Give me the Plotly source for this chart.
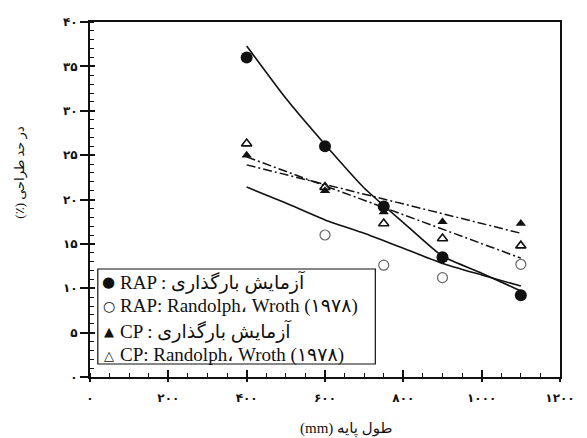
import plotly.graph_objects as go

# ---- data ----
length_mm = [400, 600, 750, 900, 1100]
rap_test = [36.0, 26.0, 19.2, 13.5, 9.2]
rap_randolph_x = [600, 750, 900, 1100]
rap_randolph = [16.0, 12.6, 11.2, 12.7]
cp_test = [25.0, 21.0, 18.6, 17.5, 17.3]
cp_randolph = [26.3, 21.4, 17.3, 15.6, 14.8]

fit_x = [400, 500, 600, 700, 800, 900, 1000, 1100]
rap_test_fit = [37.3, 31.4, 26.2, 21.3, 17.4, 13.6, 11.7, 9.7]
rap_randolph_fit = [21.4, 19.6, 17.7, 16.2, 14.5, 12.8, 11.5, 10.25]
line_x = [400, 1100]
cp_test_fit = [23.9, 16.2]
cp_randolph_fit = [24.8, 13.4]

y_tickvals = [0, 5, 10, 15, 20, 25, 30, 35, 40]
y_ticktext = ["۰", "۵", "۱۰", "۱۵", "۲۰", "۲۵", "۳۰", "۳۵", "۴۰"]
x_tickvals = [0, 200, 400, 600, 800, 1000, 1200]
x_ticktext = ["۰", "۲۰۰", "۴۰۰", "۶۰۰", "۸۰۰", "۱۰۰۰", "۱۲۰۰"]

legend_names = [
    "RAP : آزمایش بارگذاری",
    "RAP: Randolph، Wroth (۱۹۷۸)",
    "CP : آزمایش بارگذاری",
    "CP: Randolph، Wroth (۱۹۷۸)",
]
legend_symbols = ["●", "○", "▲", "△"]
x_title = "(mm) طول پایه"
y_title = "(٪) در حد طراحی"

BLACK = "#111111"
SERIF = "Liberation Serif, DejaVu Serif, DejaVu Sans"

# plot-area geometry in pixels (for placing titles / legend box)
W, H = 587, 438
L, R, T, B = 90, 16, 22, 61
PW, PH = W - L - R, H - T - B


def px(x):
    return (x - L) / PW


def py(y):
    return (H - B - y) / PH


fig = go.Figure()

# fitted lines
fig.add_trace(go.Scatter(x=fit_x, y=rap_test_fit, mode="lines", showlegend=False,
                         line=dict(color=BLACK, width=1.6, shape="spline", smoothing=0.5)))
fig.add_trace(go.Scatter(x=fit_x, y=rap_randolph_fit, mode="lines", showlegend=False,
                         line=dict(color=BLACK, width=1.6, shape="spline", smoothing=0.5)))
fig.add_trace(go.Scatter(x=line_x, y=cp_test_fit, mode="lines", showlegend=False,
                         line=dict(color=BLACK, width=1.5, dash="9px,3px,2px,3px")))
fig.add_trace(go.Scatter(x=line_x, y=cp_randolph_fit, mode="lines", showlegend=False,
                         line=dict(color=BLACK, width=1.5, dash="9px,3px,2px,3px")))

# markers
fig.add_trace(go.Scatter(x=length_mm, y=rap_test, mode="markers", name=legend_names[0],
                         showlegend=False,
                         marker=dict(symbol="circle", size=12, color=BLACK)))
fig.add_trace(go.Scatter(x=rap_randolph_x, y=rap_randolph, mode="markers", name=legend_names[1],
                         showlegend=False,
                         marker=dict(symbol="circle-open", size=10, color="#666666",
                                     line=dict(width=1.2))))
fig.add_trace(go.Scatter(x=length_mm, y=cp_test, mode="markers", name=legend_names[2],
                         showlegend=False,
                         marker=dict(symbol="triangle-up", size=9, color=BLACK)))
fig.add_trace(go.Scatter(x=length_mm, y=cp_randolph, mode="markers", name=legend_names[3],
                         showlegend=False,
                         marker=dict(symbol="triangle-up-open", size=9, color=BLACK,
                                     line=dict(width=1.6))))

# dummy trace for overlay axes (inside major ticks)
fig.add_trace(go.Scatter(x=[None], y=[None], xaxis="x2", yaxis="y2",
                         showlegend=False, hoverinfo="skip"))

tickfont = dict(family="DejaVu Sans", size=12, color=BLACK, weight="bold")

annotations = [
    dict(text=x_title, xref="paper", yref="paper", x=px(352), y=py(429),
         xanchor="center", yanchor="middle", showarrow=False,
         font=dict(family=SERIF, size=15, color=BLACK)),
    dict(text=y_title, xref="paper", yref="paper", x=px(18), y=py(172),
         xanchor="center", yanchor="middle", showarrow=False, textangle=-90,
         font=dict(family=SERIF, size=13, color=BLACK)),
]

# custom legend (box + symbol + text)
row_y = [282, 306, 331, 355]
sym_sizes = [15, 14, 13, 13]
for name, sym, yy, ss in zip(legend_names, legend_symbols, row_y, sym_sizes):
    annotations.append(dict(text=sym, xref="paper", yref="paper", x=px(109), y=py(yy),
                            xanchor="center", yanchor="middle", showarrow=False,
                            font=dict(family="DejaVu Sans", size=ss, color=BLACK)))
    annotations.append(dict(text=name, xref="paper", yref="paper", x=px(119), y=py(yy),
                            xanchor="left", yanchor="middle", showarrow=False,
                            font=dict(family=SERIF, size=19, color=BLACK)))

shapes = [dict(type="rect", xref="paper", yref="paper",
               x0=px(98), x1=px(382), y0=py(364), y1=py(269),
               line=dict(color=BLACK, width=1.2), fillcolor="white", layer="above")]

fig.update_layout(
    width=W, height=H,
    margin=dict(l=L, r=R, t=T, b=B),
    paper_bgcolor="white", plot_bgcolor="white",
    showlegend=False,
    xaxis=dict(range=[0, 1200], tickvals=x_tickvals, ticktext=x_ticktext,
               ticks="outside", ticklen=3, tickwidth=1.5, tickcolor=BLACK,
               minor=dict(dtick=50, ticks="inside", ticklen=4, tickwidth=1, tickcolor=BLACK),
               showline=True, linecolor=BLACK, linewidth=2, mirror=True,
               showgrid=False, zeroline=False, tickfont=tickfont,
               ticklabelstandoff=6),
    yaxis=dict(range=[0, 40], tickvals=y_tickvals, ticktext=y_ticktext,
               ticks="outside", ticklen=8, tickwidth=1.5, tickcolor=BLACK,
               minor=dict(dtick=1, ticks="inside", ticklen=4, tickwidth=1, tickcolor=BLACK),
               showline=True, linecolor=BLACK, linewidth=2, mirror=True,
               showgrid=False, zeroline=False, tickfont=tickfont),
    xaxis2=dict(overlaying="x", range=[0, 1200], tickvals=x_tickvals,
                ticks="inside", ticklen=7, tickwidth=1.5, tickcolor=BLACK,
                showticklabels=False, showline=False, showgrid=False, zeroline=False,
                side="bottom"),
    yaxis2=dict(overlaying="y", range=[0, 40], tickvals=y_tickvals,
                ticks="inside", ticklen=5, tickwidth=1.5, tickcolor=BLACK,
                showticklabels=False, showline=False, showgrid=False, zeroline=False,
                side="left"),
    annotations=annotations,
    shapes=shapes,
)

fig.write_html("out.html")
